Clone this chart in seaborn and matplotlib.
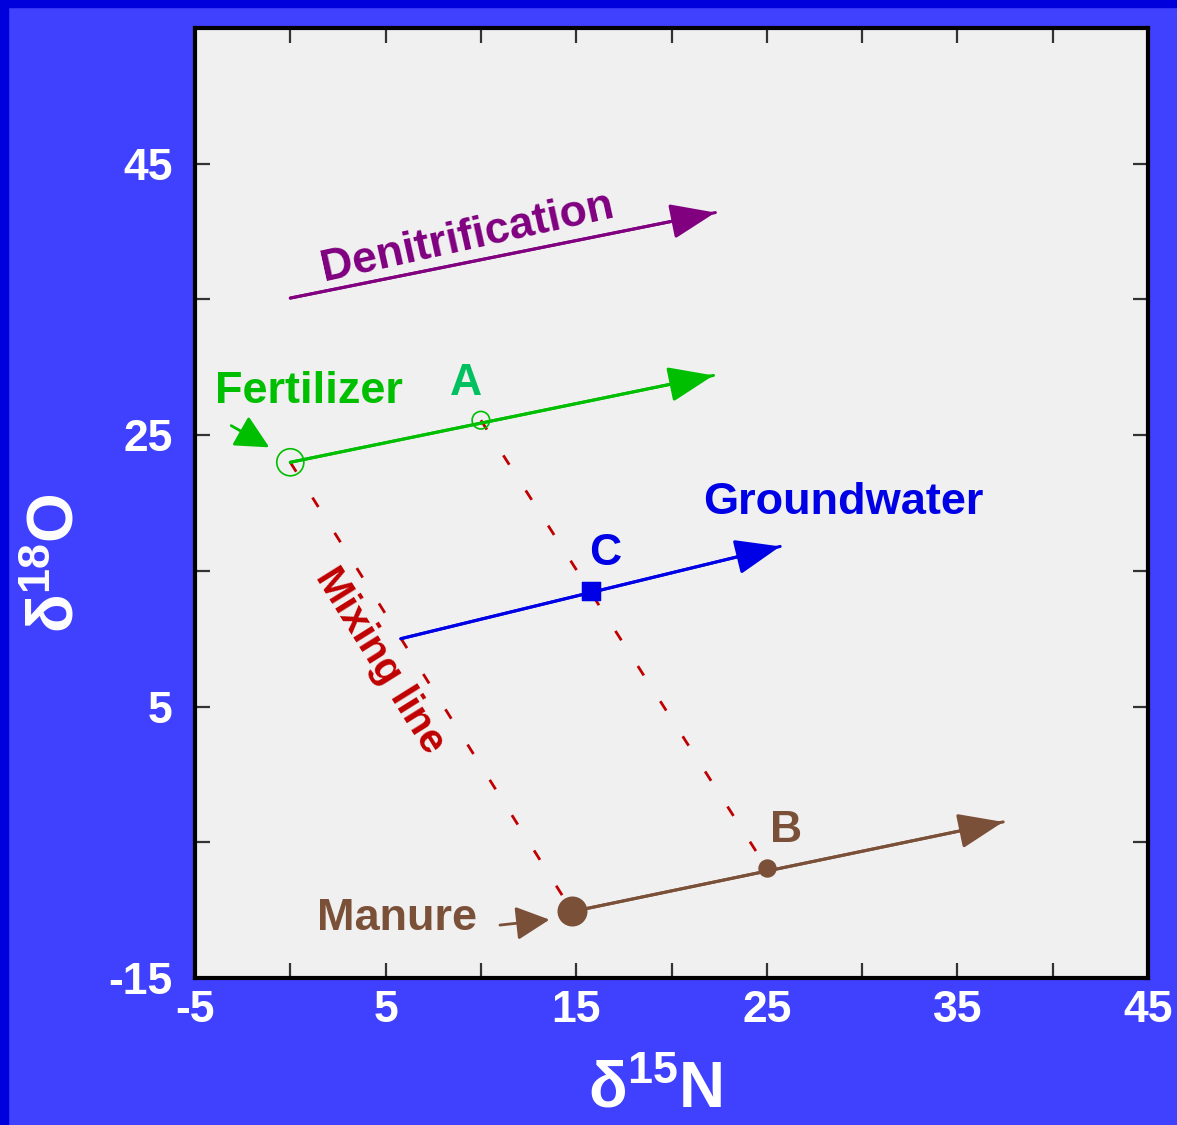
import matplotlib
matplotlib.use("Agg")
import matplotlib.pyplot as plt
import seaborn as sns
import pandas as pd
from matplotlib.patches import Rectangle

# ---- data ----
x_major = [-5, 5, 15, 25, 35, 45]
x_minor = [0, 10, 20, 30, 40]
y_major = [-15, 5, 25, 45]
y_minor = [-5, 15, 35, 55]

point_names = ["Fertilizer", "A", "C", "Manure", "B"]
point_x = [0.0, 10.0, 15.8, 14.8, 25.0]
point_y = [23.0, 26.1, 13.5, -10.1, -6.9]

# trend arrows (start -> end)
denit_x = [0.0, 22.3]
denit_y = [35.1, 41.4]
fert_x = [0.0, 22.2]
fert_y = [23.0, 29.4]
gw_x = [5.8, 25.7]
gw_y = [10.0, 16.8]
man_x = [14.8, 37.4]
man_y = [-10.1, -3.5]

# mixing lines
mix1_x = [0.0, 14.8]
mix1_y = [23.0, -10.1]
mix2_x = [10.0, 25.0]
mix2_y = [26.1, -6.9]

# pointer arrows
fert_ptr_x = [-3.1, -1.1]
fert_ptr_y = [25.7, 24.1]
man_ptr_x = [11.0, 13.6]
man_ptr_y = [-11.1, -10.7]

GREEN = "#00BE00"
GREEN_A = "#00C060"
BLUE = "#0000E6"
BROWN = "#7B5038"
PURPLE = "#800080"
RED = "#C00000"

sns.set_theme(style="white")
plt.rcParams["font.family"] = ["Liberation Sans", "DejaVu Sans"]
plt.rcParams["font.weight"] = "bold"
plt.rcParams["mathtext.fontset"] = "custom"
plt.rcParams["mathtext.rm"] = "Liberation Sans:bold"
plt.rcParams["mathtext.it"] = "Liberation Sans:bold"
plt.rcParams["mathtext.bf"] = "Liberation Sans:bold"

W, H = 1177, 1125
fig = plt.figure(figsize=(W / 100, H / 100), dpi=100, facecolor="#4040FF")
# darker slide border
fig.patches.append(Rectangle((0, 0), 8 / W, 1, transform=fig.transFigure, color="#0000DD", zorder=0))
fig.patches.append(Rectangle((0, 1 - 7 / H), 1, 7 / H, transform=fig.transFigure, color="#0000DD", zorder=0))

ax = fig.add_axes([195 / W, 1 - 978 / H, (1148 - 195) / W, (978 - 28) / H])
ax.set_facecolor("#F0F0F0")

def seg(xs, ys, color, **kw):
    df = pd.DataFrame({"x": xs, "y": ys})
    sns.lineplot(data=df, x="x", y="y", ax=ax, color=color, sort=False,
                 estimator=None, legend=False, **kw)

def arrow(xs, ys, color, lw=2.2, scale=20, hl=1.4, hw=0.55):
    ax.annotate("", xy=(xs[1], ys[1]), xytext=(xs[0], ys[0]),
                arrowprops=dict(arrowstyle=f"-|>,head_length={hl},head_width={hw}",
                                color=color, lw=lw, shrinkA=0, shrinkB=0,
                                mutation_scale=scale), zorder=3)

# mixing lines
seg(mix1_x, mix1_y, RED, linewidth=2.0, linestyle=(0, (4, 11)), zorder=2)
seg(mix2_x, mix2_y, RED, linewidth=2.0, linestyle=(0, (4, 11)), zorder=2)

# trend arrows
for xs, ys, c in [(denit_x, denit_y, PURPLE), (fert_x, fert_y, GREEN),
                  (gw_x, gw_y, BLUE), (man_x, man_y, BROWN)]:
    seg(xs, ys, c, linewidth=2.2, zorder=3)
    arrow(xs, ys, c)

arrow(fert_ptr_x, fert_ptr_y, GREEN, lw=2.0, scale=16, hl=1.3, hw=0.65)
arrow(man_ptr_x, man_ptr_y, BROWN, lw=2.0, scale=16, hl=1.3, hw=0.65)

# points
pts = pd.DataFrame({"name": point_names, "x": point_x, "y": point_y})
sty = {
    "Fertilizer": dict(marker="o", s=380, facecolors="none", edgecolors=GREEN, linewidths=1.2),
    "A": dict(marker="o", s=160, facecolors="none", edgecolors=GREEN, linewidths=1.2),
    "C": dict(marker="s", s=180, color=BLUE, edgecolor=BLUE),
    "Manure": dict(marker="o", s=400, color=BROWN, edgecolor=BROWN),
    "B": dict(marker="o", s=150, color=BROWN, edgecolor=BROWN),
}
for _, r in pts.iterrows():
    sns.scatterplot(x=[r.x], y=[r.y], ax=ax, zorder=4, legend=False, **sty[r["name"]])

# labels
tk = dict(fontweight="bold", ha="center", va="center")
ax.text(1.0, 28.2, "Fertilizer", color=GREEN, fontsize=32.5, **tk)
ax.text(9.2, 28.8, "A", color=GREEN_A, fontsize=32, **tk)
ax.text(29.0, 20.0, "Groundwater", color=BLUE, fontsize=32.5, **tk)
ax.text(16.5, 16.3, "C", color=BLUE, fontsize=32, **tk)
ax.text(26.0, -4.1, "B", color=BROWN, fontsize=32, **tk)
ax.text(5.6, -10.6, "Manure", color=BROWN, fontsize=32.5, **tk)
ax.text(9.3, 39.6, "Denitrification", color=PURPLE, fontsize=32, rotation=12.5,
        rotation_mode="anchor", **tk)
ax.text(4.7, 8.4, "Mixing line", color=RED, fontsize=29.5, rotation=-58,
        rotation_mode="anchor", **tk)

# axes styling
ax.set_xlim(-5, 45)
ax.set_ylim(-15, 55)
ax.set_xticks(x_major)
ax.set_xticks(x_minor, minor=True)
ax.set_yticks(y_major)
ax.set_yticks(y_minor, minor=True)
ax.set_xticklabels([str(v) for v in x_major])
ax.set_yticklabels([str(v) for v in y_major])
ax.tick_params(which="both", direction="in", length=11, width=1.6, color="#333333",
               top=True, right=True, bottom=True, left=True)
ax.tick_params(axis="x", which="major", labelsize=32, labelcolor="white", pad=9)
ax.tick_params(axis="y", which="major", labelsize=32, labelcolor="white", pad=16)
for lab in ax.get_xticklabels() + ax.get_yticklabels():
    lab.set_fontweight("bold")
for s in ax.spines.values():
    s.set_visible(True)
    s.set_color("black")
    s.set_linewidth(3)

ax.set_xlabel("δ$^{15}$N", fontsize=46, color="white", fontweight="bold")
ax.set_ylabel("δ$^{18}$O", fontsize=46, color="white", fontweight="bold")
ax.xaxis.label.set_va("center")
ax.yaxis.label.set_va("center")
ax.xaxis.set_label_coords((655 - 195) / 953, (978 - 1090) / 950)
ax.yaxis.set_label_coords((57 - 195) / 953, (978 - 563) / 950)

fig.savefig("out.png", dpi=100, facecolor=fig.get_facecolor())
